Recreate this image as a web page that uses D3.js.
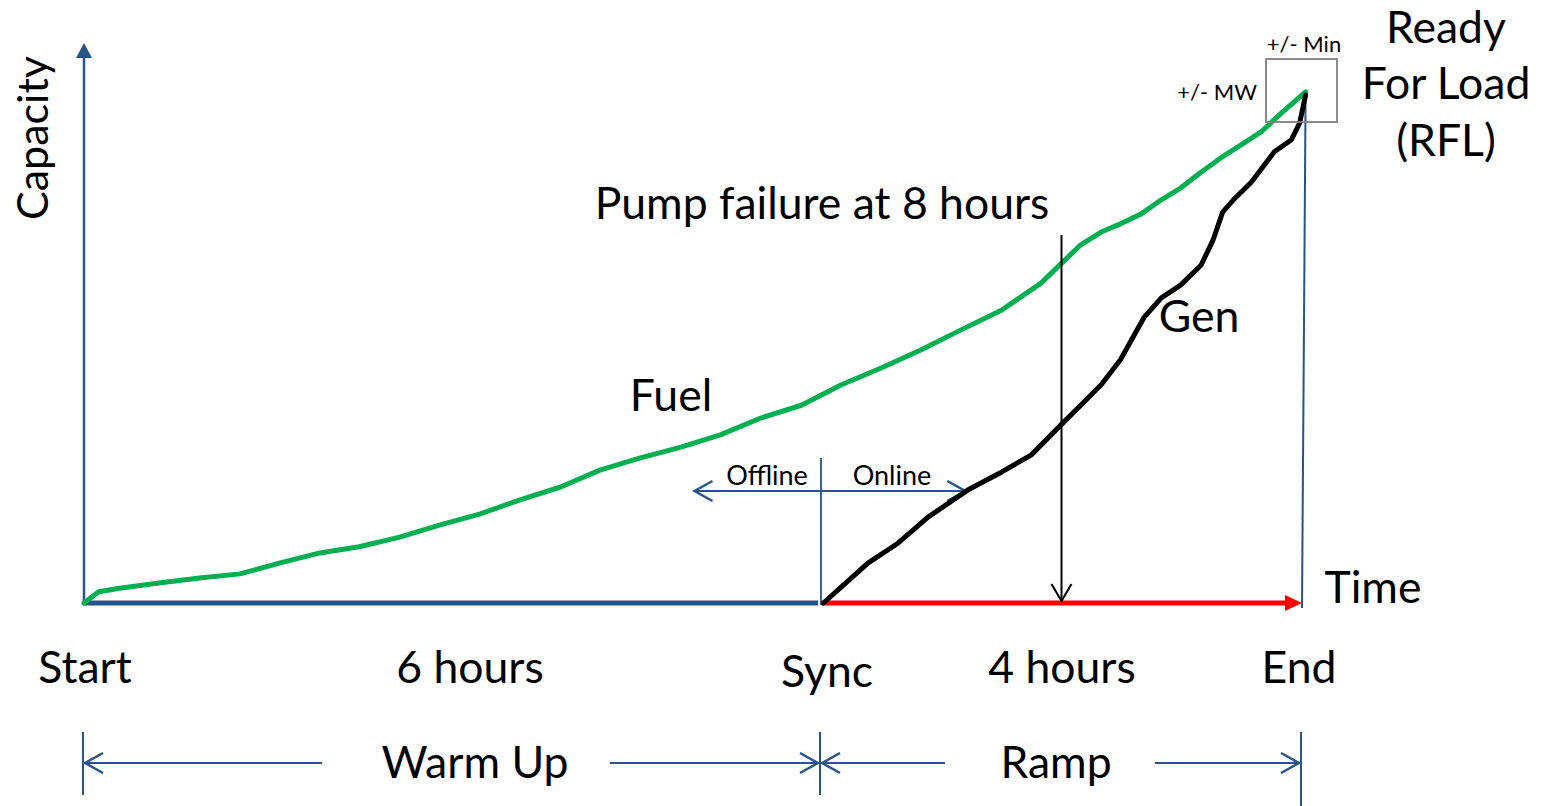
<!DOCTYPE html>
<html lang="en">
<head>
    <meta charset="UTF-8"/>
    <title>Long Startup</title>
    <script src="https://cdn.jsdelivr.net/npm/d3@7"></script>
    <style>
        html, body {
            margin: 0;
            background: white;
        }

        svg text {
            font-family: Lato, "Open Sans", sans-serif;
            fill: black;
        }
    </style>
</head>
<body>
<div id="chart"></div>

<script>
    // hours since start, capacity in percent of RFL
    const fuelHours = [0, 0.12, 0.29, 0.61, 0.94, 1.27, 1.59, 1.92, 2.24, 2.57, 2.90, 3.22, 3.55, 3.88, 4.20,
        4.53, 4.86, 5.18, 5.51, 5.84, 6.17, 6.50, 6.83, 7.16, 7.50, 7.83, 8.01, 8.16, 8.33, 8.49, 8.66, 8.83,
        8.99, 9.16, 9.33, 9.49, 9.66, 9.83, 10.03]
    const fuelCapacity = [0, 2.2, 2.9, 3.9, 4.9, 5.7, 7.8, 9.8, 11.0, 12.9, 15.3, 17.4, 20.2, 22.7, 26.0,
        28.4, 30.5, 32.9, 36.2, 38.7, 42.7, 46.0, 49.5, 53.4, 57.3, 62.6, 66.7, 70.1, 72.6, 74.2, 76.1, 78.9,
        81.2, 84.3, 87.2, 89.6, 92.2, 95.9, 100]

    const genHours = [6.02, 6.14, 6.39, 6.64, 6.89, 7.22, 7.50, 7.75, 8.01, 8.16, 8.33, 8.49, 8.69, 8.83,
        8.99, 9.16, 9.26, 9.34, 9.43, 9.58, 9.77, 9.91, 9.98, 10.03]
    const genCapacity = [0, 2.5, 7.8, 11.7, 16.8, 22.1, 25.6, 29.0, 35.2, 38.7, 42.7, 47.6, 56.0, 59.7,
        62.2, 66.1, 71.0, 76.5, 78.9, 82.4, 88.3, 90.6, 93.9, 99.4]

    const milestoneHours = [0, 6, 10]
    const milestoneLabels = ['Start', 'Sync', 'End']
    const durationLabels = ['6 hours', '4 hours']
    const phaseLabels = ['Warm Up', 'Ramp']
    const pumpFailureHour = 8

    const width = 1541
    const height = 806
    const navy = '#2a5388'
    const big = '44.5px'

    const x = d3.scaleLinear().domain([0, 6, 10]).range([84, 821, 1302])
    const y = d3.scaleLinear().domain([0, 100]).range([603, 92])

    const svg = d3.select('#chart')
        .append('svg')
        .attr('width', width)
        .attr('height', height)

    const defs = svg.append('defs')

    defs.append('marker')
        .attr('id', 'open-big')
        .attr('viewBox', '-20 -12 22 24')
        .attr('refX', 0)
        .attr('refY', 0)
        .attr('markerWidth', 22)
        .attr('markerHeight', 24)
        .attr('markerUnits', 'userSpaceOnUse')
        .attr('orient', 'auto-start-reverse')
        .append('path')
        .attr('d', 'M-18,-10 L0,0 L-18,10')
        .attr('fill', 'none')
        .attr('stroke', navy)
        .attr('stroke-width', 2.5)

    defs.append('marker')
        .attr('id', 'pump-head')
        .attr('viewBox', '-20 -12 22 24')
        .attr('refX', 0)
        .attr('refY', 0)
        .attr('markerWidth', 22)
        .attr('markerHeight', 24)
        .attr('markerUnits', 'userSpaceOnUse')
        .attr('orient', 'auto')
        .append('path')
        .attr('d', 'M-17,-10 L0,0 L-17,10')
        .attr('fill', 'none')
        .attr('stroke', 'black')
        .attr('stroke-width', 2)

    // clipped title at the top edge
    svg.append('text')
        .attr('x', 20)
        .attr('y', -8)
        .attr('font-size', big)
        .text('Long Startup')

    const capTop = y.invert(43)

    // y axis with filled arrow head
    svg.append('line')
        .attr('x1', x(0)).attr('x2', x(0))
        .attr('y1', y(0) + 2).attr('y2', y(capTop) + 12)
        .attr('stroke', navy).attr('stroke-width', 2.5)
    svg.append('path')
        .attr('d', `M${x(0) - 8},${y(capTop) + 15} L${x(0)},${y(capTop)} L${x(0) + 8},${y(capTop) + 15} Z`)
        .attr('fill', navy)

    svg.append('text')
        .attr('transform', `translate(48,138) rotate(-90)`)
        .attr('text-anchor', 'middle')
        .attr('font-size', '43px')
        .text('Capacity')

    // time base: offline part navy, online part red
    svg.append('line')
        .attr('x1', x(0) - 1).attr('x2', x(6) - 3)
        .attr('y1', y(0)).attr('y2', y(0))
        .attr('stroke', navy).attr('stroke-width', 5)
    svg.append('line')
        .attr('x1', x(6) + 1).attr('x2', x(10) - 15)
        .attr('y1', y(0)).attr('y2', y(0))
        .attr('stroke', '#ff0000').attr('stroke-width', 5)
    svg.append('path')
        .attr('d', `M${x(10) - 17},${y(0) - 8} L${x(10)},${y(0)} L${x(10) - 17},${y(0) + 8} Z`)
        .attr('fill', '#ff0000')

    svg.append('text')
        .attr('x', 1373).attr('y', 603)
        .attr('text-anchor', 'middle')
        .attr('font-size', big)
        .text('Time')

    // sync marker and offline / online arrow
    svg.append('line')
        .attr('x1', x(6)).attr('x2', x(6))
        .attr('y1', 458).attr('y2', y(0) + 2)
        .attr('stroke', navy).attr('stroke-width', 1.8)
    svg.append('line')
        .attr('x1', x(4.97)).attr('x2', x(7.2))
        .attr('y1', 491).attr('y2', 491)
        .attr('stroke', navy).attr('stroke-width', 2)
        .attr('marker-start', 'url(#open-big)')
        .attr('marker-end', 'url(#open-big)')
    svg.append('text')
        .attr('x', 767).attr('y', 485)
        .attr('text-anchor', 'middle').attr('font-size', '27px')
        .text('Offline')
    svg.append('text')
        .attr('x', 892).attr('y', 485)
        .attr('text-anchor', 'middle').attr('font-size', '27px')
        .text('Online')

    // RFL vertical
    svg.append('line')
        .attr('x1', x(10.03)).attr('x2', x(10))
        .attr('y1', y(100)).attr('y2', 608)
        .attr('stroke', navy).attr('stroke-width', 2)

    // curves
    const line = d3.line()
        .x(d => x(d[0]))
        .y(d => y(d[1]))

    const fuel = d3.zip(fuelHours, fuelCapacity)
    const gen = d3.zip(genHours, genCapacity)

    svg.append('path')
        .datum(fuel)
        .attr('d', line)
        .attr('fill', 'none')
        .attr('stroke', '#00b050')
        .attr('stroke-width', 5)
        .attr('stroke-linejoin', 'round')
        .attr('stroke-linecap', 'round')

    svg.append('path')
        .datum(gen)
        .attr('d', line)
        .attr('fill', 'none')
        .attr('stroke', 'black')
        .attr('stroke-width', 5)
        .attr('stroke-linejoin', 'round')
        .attr('stroke-linecap', 'round')

    svg.append('text')
        .attr('x', 671).attr('y', 411)
        .attr('text-anchor', 'middle').attr('font-size', big)
        .text('Fuel')
    svg.append('text')
        .attr('x', 1199).attr('y', 332)
        .attr('text-anchor', 'middle').attr('font-size', big)
        .text('Gen')

    // pump failure arrow
    svg.append('line')
        .attr('x1', x(pumpFailureHour)).attr('x2', x(pumpFailureHour))
        .attr('y1', 235).attr('y2', 601)
        .attr('stroke', 'black').attr('stroke-width', 2)
        .attr('marker-end', 'url(#pump-head)')
    svg.append('text')
        .attr('x', 822).attr('y', 219)
        .attr('text-anchor', 'middle').attr('font-size', big)
        .text('Pump failure at 8 hours')

    // tolerance box around RFL
    svg.append('rect')
        .attr('x', 1266).attr('y', 59)
        .attr('width', 71).attr('height', 63)
        .attr('fill', 'none')
        .attr('stroke', '#7f7f7f').attr('stroke-width', 1.8)
    svg.append('text')
        .attr('x', 1304).attr('y', 52)
        .attr('text-anchor', 'middle').attr('font-size', '22px')
        .text('+/- Min')
    svg.append('text')
        .attr('x', 1257).attr('y', 100)
        .attr('text-anchor', 'end').attr('font-size', '22px')
        .text('+/- MW')

    const rfl = ['Ready', 'For Load', '(RFL)']
    const rflBase = [43, 99, 156]
    rfl.forEach((t, i) => {
        svg.append('text')
            .attr('x', 1446).attr('y', rflBase[i])
            .attr('text-anchor', 'middle').attr('font-size', big)
            .text(t)
    })

    // milestone labels
    milestoneHours.forEach((h, i) => {
        svg.append('text')
            .attr('x', x(h) + (i === 1 ? 6 : (i === 2 ? -3 : 1)))
            .attr('y', i === 1 ? 687 : 683)
            .attr('text-anchor', 'middle').attr('font-size', big)
            .text(milestoneLabels[i])
    })
    durationLabels.forEach((t, i) => {
        const mid = i === 0 ? 470 : 1062
        svg.append('text')
            .attr('x', mid).attr('y', 683)
            .attr('text-anchor', 'middle').attr('font-size', big)
            .text(t)
    })

    // phase dimension lines
    const phaseY = 763
    milestoneHours.forEach((h, i) => {
        svg.append('line')
            .attr('x1', x(h) - 1).attr('x2', x(h) - 1)
            .attr('y1', 732).attr('y2', i === 2 ? 806 : 795)
            .attr('stroke', navy).attr('stroke-width', 2)
    })

    const phaseText = [475, 1056]
    const phaseGaps = [[322, 610], [945, 1155]]
    phaseLabels.forEach((t, i) => {
        const a = x(milestoneHours[i]) + 1
        const b = x(milestoneHours[i + 1]) - 3
        svg.append('line')
            .attr('x1', phaseGaps[i][0]).attr('x2', a)
            .attr('y1', phaseY).attr('y2', phaseY)
            .attr('stroke', navy).attr('stroke-width', 2)
            .attr('marker-end', 'url(#open-big)')
        svg.append('line')
            .attr('x1', phaseGaps[i][1]).attr('x2', b)
            .attr('y1', phaseY).attr('y2', phaseY)
            .attr('stroke', navy).attr('stroke-width', 2)
            .attr('marker-end', 'url(#open-big)')
        svg.append('text')
            .attr('x', phaseText[i]).attr('y', 778)
            .attr('text-anchor', 'middle').attr('font-size', big)
            .text(t)
    })
</script>
</body>
</html>
